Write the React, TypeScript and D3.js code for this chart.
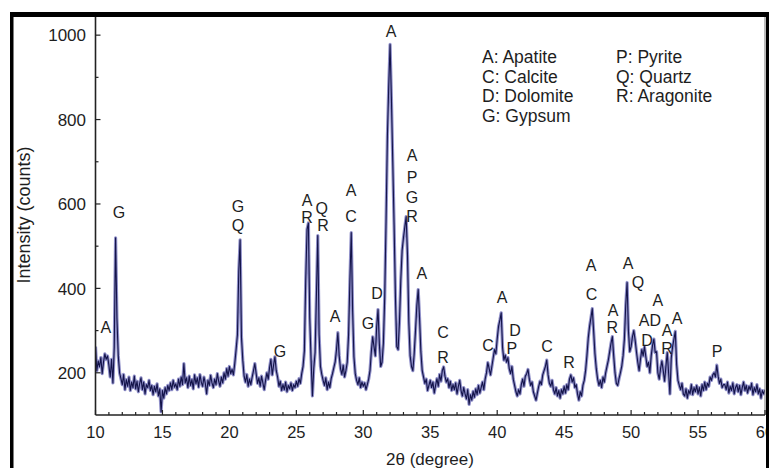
import React from 'react';
import * as d3 from 'd3';

// XRD pattern, 2θ from 10° to 60° in 0.1° steps
const twoThetaStart = 10;
const twoThetaStep = 0.1;
const intensity: number[] = [
  262,205,228,214,236,198,226,245,232,240,
  218,190,232,176,260,520,330,240,200,186,
  172,196,160,184,168,190,158,178,165,192,
  162,180,155,175,188,160,178,150,172,165,
  182,158,170,148,168,155,174,145,162,108,
  158,140,165,150,170,158,176,160,182,166,
  174,160,185,168,190,172,222,176,188,165,
  192,170,184,162,195,174,188,166,196,178,
  168,190,175,150,182,170,194,176,165,185,
  172,198,180,168,190,176,200,185,210,192,
  215,198,208,195,222,255,290,440,515,285,
  230,192,178,196,168,185,172,190,205,222,
  198,175,188,168,192,176,160,182,200,185,
  212,232,195,218,238,205,190,168,180,158,
  172,160,178,155,170,162,176,158,172,165,
  180,168,186,175,198,215,252,420,540,555,
  330,232,145,210,248,385,525,290,215,196,
  182,170,188,160,178,165,186,198,212,226,
  255,295,240,210,196,218,190,205,225,290,
  420,532,350,238,198,182,172,188,165,178,
  168,176,160,172,185,205,250,285,262,240,
  310,350,268,215,225,270,380,560,760,880,
  978,850,700,550,380,262,255,320,420,490,
  520,545,570,480,320,240,215,205,245,300,
  360,397,330,250,205,190,175,185,158,170,
  182,165,178,152,170,186,168,196,180,205,
  214,192,178,186,165,180,158,172,160,176,
  150,168,182,158,145,165,150,138,160,125,
  148,135,156,142,162,148,170,152,165,178,
  160,185,200,224,210,195,215,235,255,245,
  280,310,325,342,260,230,242,225,236,210,
  198,215,185,170,155,145,160,150,172,185,
  168,192,198,208,185,170,178,155,145,135,
  152,168,180,172,195,205,215,230,195,175,
  168,182,160,150,165,145,158,140,160,150,
  168,152,172,160,185,195,178,188,165,172,
  150,135,155,145,170,182,205,240,282,310,
  330,352,300,245,210,185,170,182,165,190,
  178,200,215,230,250,270,286,240,200,175,
  170,186,200,215,240,280,360,414,300,250,
  262,285,300,278,250,225,205,232,255,240,
  262,238,215,225,200,240,265,280,248,250,
  200,185,210,228,205,180,215,248,200,150,
  235,262,280,298,220,182,170,160,175,150,
  145,162,140,158,150,172,148,165,155,170,
  150,165,145,172,158,178,160,175,168,190,
  182,195,200,190,218,192,175,185,165,172,
  172,160,178,152,168,158,176,150,165,172,
  155,170,148,165,178,158,170,152,168,160,
  175,148,165,155,172,150,162,140,158,150,
  160,
];

const xTicks = [10, 15, 20, 25, 30, 35, 40, 45, 50, 55, 60];
const xMinorTicks = d3.range(10, 61, 1);
const yTicks = [200, 400, 600, 800, 1000];
const yMinorTicks = [300, 500, 700, 900];

// phase label: [text, 2θ, intensity at label centre]
const peakLabels: [string, number, number][] = [
  ['A', 10.78, 309],
  ['G', 11.75, 581],
  ['G', 20.64, 595], ['Q', 20.64, 550],
  ['G', 23.78, 250],
  ['A', 25.8, 609], ['R', 25.8, 569],
  ['Q', 26.9, 590], ['R', 26.99, 550],
  ['A', 27.9, 333],
  ['A', 29.08, 633], ['C', 29.08, 572],
  ['G', 30.35, 318],
  ['D', 31.02, 389],
  ['A', 32.07, 1009],
  ['A', 33.64, 716], ['P', 33.64, 664], ['G', 33.64, 617], ['R', 33.64, 572],
  ['A', 34.38, 437],
  ['C', 35.95, 295], ['R', 35.95, 238],
  ['C', 39.31, 266],
  ['A', 40.36, 380],
  ['D', 41.33, 302], ['P', 41.1, 257],
  ['C', 43.72, 262],
  ['R', 45.36, 224],
  ['A', 47.01, 456], ['C', 47.05, 385],
  ['A', 48.65, 349], ['R', 48.6, 307],
  ['A', 49.77, 460],
  ['Q', 50.51, 415],
  ['A', 52.0, 373],
  ['AD', 51.41, 325],
  ['D', 51.19, 278],
  ['A', 52.68, 301], ['R', 52.68, 259],
  ['A', 53.43, 330],
  ['P', 56.42, 250],
];

const legendCol1 = ['A: Apatite', 'C: Calcite', 'D: Dolomite', 'G: Gypsum'];
const legendCol2 = ['P: Pyrite', 'Q: Quartz', 'R: Aragonite'];

const FONT = '"Liberation Sans", Arial, Helvetica, sans-serif';

export default function App() {
  const W = 769;
  const H = 468;
  const x = d3.scaleLinear().domain([10, 60]).range([95.5, 765]);
  const y = d3.scaleLinear().domain([100, 1043]).range([415, 17]);

  const pts: [number, number][] = intensity.map((v, i) => [twoThetaStart + i * twoThetaStep, v]);
  const line = d3.line<[number, number]>().x(d => x(d[0])).y(d => y(d[1]));
  const path = line(pts) || '';

  const textColor = '#1e1e1e';

  return (
    <svg width={W} height={H} style={{ position: 'absolute', left: 0, top: 0, background: '#fff' }}
      fontFamily={FONT}>
      <rect x={0} y={0} width={W} height={H} fill="#fff" />
      <defs>
        <clipPath id="plotclip">
          <rect x={x(10)} y={y(1043)} width={x(60) - x(10)} height={y(100) - y(1043)} />
        </clipPath>
      </defs>

      {/* data */}
      <g clipPath="url(#plotclip)">
        <path d={path} fill="none" stroke="#7474bc" strokeWidth={3.2} strokeLinejoin="round" opacity={0.8} />
        <path d={path} fill="none" stroke="#14144a" strokeWidth={1.1} strokeLinejoin="round" />
      </g>

      {/* plot frame */}
      <line x1={x(60)} x2={x(60)} y1={17} y2={y(100)} stroke="#777" strokeWidth={1} />
      <line x1={x(10)} x2={x(60)} y1={y(100)} y2={y(100)} stroke="#222" strokeWidth={1.6} />
      <line x1={x(10)} x2={x(10)} y1={17} y2={y(100)} stroke="#222" strokeWidth={1.6} />

      {/* x ticks */}
      {xMinorTicks.map(t => (
        <line key={'xm' + t} x1={x(t)} x2={x(t)} y1={y(100)} y2={y(100) - (t % 5 === 0 ? 5 : 3)}
          stroke="#222" strokeWidth={1.2} />
      ))}
      {xTicks.map(t => (
        <text key={'xt' + t} x={x(t)} y={438} textAnchor="middle" fontSize={16.5} fill={textColor}>{t}</text>
      ))}

      {/* y ticks */}
      {yTicks.map(t => (
        <g key={'yt' + t}>
          <line x1={x(10)} x2={x(10) + 5} y1={y(t)} y2={y(t)} stroke="#222" strokeWidth={1.2} />
          <text x={86} y={y(t)} dy="0.36em" textAnchor="end" fontSize={17} fill={textColor}>{t}</text>
        </g>
      ))}
      {yMinorTicks.map(t => (
        <line key={'ym' + t} x1={x(10)} x2={x(10) + 3} y1={y(t)} y2={y(t)} stroke="#222" strokeWidth={1.2} />
      ))}

      {/* axis titles */}
      <text x={430} y={465} textAnchor="middle" fontSize={17} fill={textColor}>2θ (degree)</text>
      <text transform={`translate(30, 215) rotate(-90)`} textAnchor="middle" fontSize={18} fill={textColor}>
        Intensity (counts)
      </text>

      {/* phase labels */}
      {peakLabels.map(([s, t, v], i) => (
        <text key={'pl' + i} x={x(t)} y={y(v)} dy="0.36em" textAnchor="middle" fontSize={16} fill={textColor}>{s}</text>
      ))}

      {/* legend */}
      {legendCol1.map((s, i) => (
        <text key={'l1' + i} x={482} y={63 + i * 19.5} fontSize={17.5} fill={textColor}>{s}</text>
      ))}
      {legendCol2.map((s, i) => (
        <text key={'l2' + i} x={616} y={63 + i * 19.5} fontSize={17.5} fill={textColor}>{s}</text>
      ))}

      {/* outer black border */}
      <rect x={10} y={12} width={W - 10} height={5} fill="#000" />
      <rect x={10} y={12} width={3.5} height={H - 12} fill="#000" />
      <rect x={766} y={12} width={3} height={H - 12} fill="#000" />
    </svg>
  );
}
